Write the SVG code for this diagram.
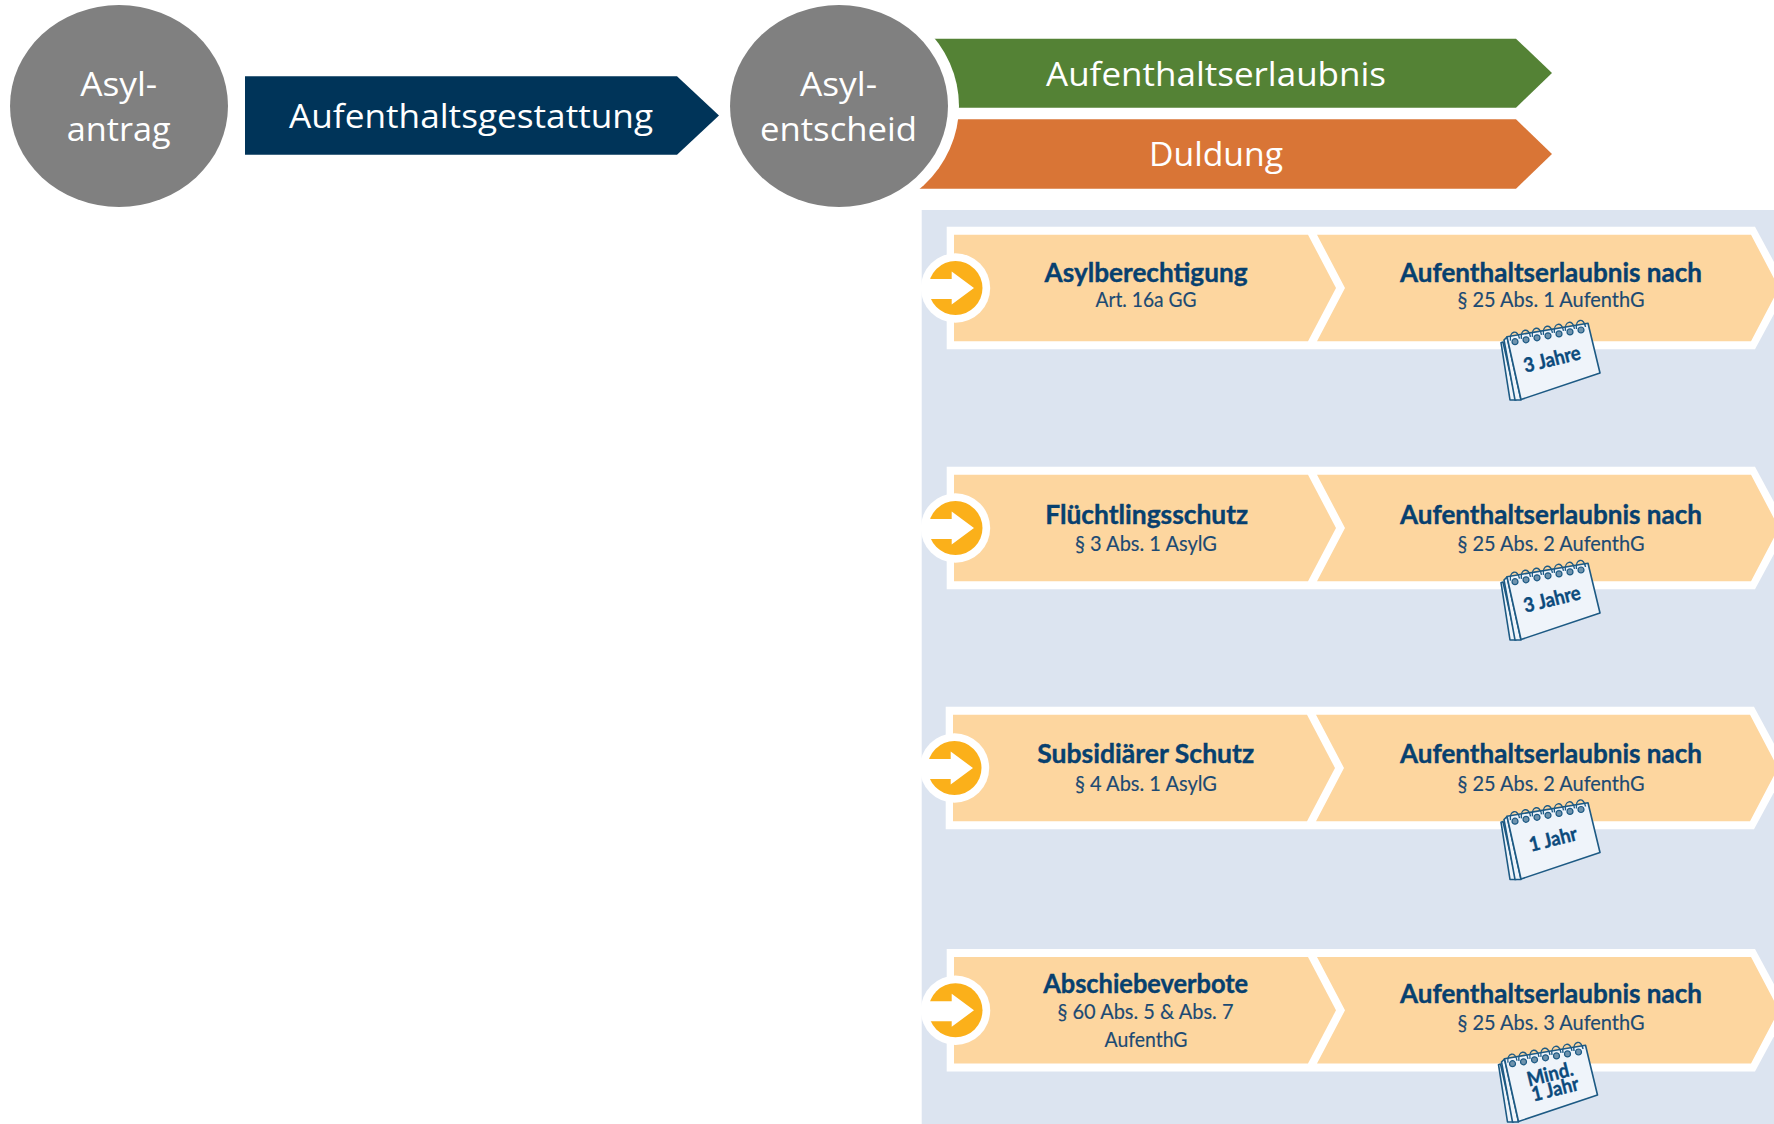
<svg xmlns="http://www.w3.org/2000/svg" xmlns:xlink="http://www.w3.org/1999/xlink" width="1774" height="1124" viewBox="0 0 1774 1124">
<style>
.big{font-family:"Open Sans","Noto Sans",sans-serif;font-size:33px;fill:#fff;text-anchor:middle}
.h{font-family:"Lato","Noto Sans",sans-serif;font-weight:700;font-size:27px;fill:#07406f;stroke:#07406f;stroke-width:.4;text-anchor:middle}
.s{font-family:"Lato","Noto Sans",sans-serif;font-size:20.5px;fill:#1c4a73;stroke:#1c4a73;stroke-width:.15;text-anchor:middle}
.c{font-family:"Lato","Noto Sans",sans-serif;font-weight:700;font-size:20px;fill:#0b4a7c;stroke:#0b4a7c;stroke-width:.4;text-anchor:middle}
.page{fill:#eff4fa;stroke:#1d5a84;stroke-width:1.6;stroke-linejoin:round}
.peach{fill:#fdd69f}
</style>
<defs>
<g id="ring"><circle cx="0" cy="0" r="3" fill="#6f93ad" stroke="#1d5a84" stroke-width="1.2"/><path d="M-4.5,-1 C-6,-11 3,-13 4.5,-3" fill="none" stroke="#1d5a84" stroke-width="1.4"/></g>
<g id="calendar">
<polygon class="page" points="1501,342.7 1510,400 1516,400 1503,342"/>
<polygon class="page" points="1504,340 1515,400 1521,400 1507,337"/>
<polygon class="page" points="1507,336.7 1588,323.3 1600,373 1521,399.5"/>
<use xlink:href="#ring" x="1515" y="341.7"/><use xlink:href="#ring" x="1526" y="339.8"/><use xlink:href="#ring" x="1537" y="337.8"/><use xlink:href="#ring" x="1548" y="335.8"/><use xlink:href="#ring" x="1559" y="333.9"/><use xlink:href="#ring" x="1570" y="331.9"/><use xlink:href="#ring" x="1581" y="330"/>
</g>
<g id="band">
<polygon fill="#fff" points="946.7,-61.3 1755,-61.3 1788,0 1755,61.3 946.7,61.3"/>
<polygon class="peach" points="954,-53.3 1308,-53.3 1336,0 1308,53.3 954,53.3"/>
<polygon class="peach" points="1317,-53.3 1751,-53.3 1779,0 1751,53.3 1317,53.3 1345,0"/>
<circle cx="955.5" cy="0" r="34.7" fill="#fff"/>
<circle cx="955.5" cy="0" r="27" fill="#fbb01a"/>
<polygon fill="#fff" points="925,-9 951.7,-9 951.7,-16.5 974,0 951.7,16.5 951.7,11 925,11"/>
</g>
</defs>
<rect width="1774" height="1124" fill="#fff"/>
<rect id="panel" x="921.7" y="210" width="852.3" height="914" fill="#dce4f0"/>
<g id="aufenthaltsgestattung"><polygon fill="#003459" points="245,76.3 677,76.3 719,115.5 677,154.7 245,154.7"/><text class="big" x="471" y="127.5" textLength="364" lengthAdjust="spacingAndGlyphs">Aufenthaltsgestattung</text></g>
<g id="aufenthaltserlaubnis"><polygon fill="#548235" points="900,38.7 1516,38.7 1552,73 1516,107.7 900,107.7"/><text class="big" x="1216" y="85.5" textLength="340" lengthAdjust="spacingAndGlyphs">Aufenthaltserlaubnis</text></g>
<g id="duldung"><polygon fill="#d97536" points="900,119.3 1516,119.3 1552,154 1516,188.7 918,188.7"/><text class="big" x="1216" y="166" textLength="134" lengthAdjust="spacingAndGlyphs">Duldung</text></g>
<g id="asylantrag"><ellipse cx="119" cy="106" rx="109" ry="101" fill="#808080"/><text class="big" x="118.7" y="95.7" textLength="77" lengthAdjust="spacingAndGlyphs">Asyl-</text><text class="big" x="118.7" y="140.7" textLength="104" lengthAdjust="spacingAndGlyphs">antrag</text></g>
<g id="asylentscheid"><ellipse cx="839" cy="106" rx="120" ry="112" fill="#fff"/><ellipse cx="839" cy="106" rx="109" ry="101" fill="#808080"/><text class="big" x="838.5" y="95.7" textLength="77" lengthAdjust="spacingAndGlyphs">Asyl-</text><text class="big" x="838.5" y="140.5" textLength="157" lengthAdjust="spacingAndGlyphs">entscheid</text></g>
<g id="row-asylberechtigung">
<use xlink:href="#band" y="288"/>
<text class="h" x="1146" y="281.7" textLength="203" lengthAdjust="spacingAndGlyphs">Asylberechtigung</text>
<text class="s" x="1146" y="306.7" textLength="101" lengthAdjust="spacingAndGlyphs">Art. 16a GG</text>
<text class="h" x="1551" y="281.7" textLength="302" lengthAdjust="spacingAndGlyphs">Aufenthaltserlaubnis nach</text>
<text class="s" x="1551" y="306.7" textLength="187" lengthAdjust="spacingAndGlyphs">§ 25 Abs. 1 AufenthG</text>
<use xlink:href="#calendar"/>
<text class="c" transform="translate(1552 359) rotate(-14)" x="0" y="7" textLength="58" lengthAdjust="spacingAndGlyphs">3 Jahre</text>
</g>
<g id="row-fluechtlingsschutz">
<use xlink:href="#band" y="528"/>
<text class="h" x="1146.7" y="524.3" textLength="203" lengthAdjust="spacingAndGlyphs">Flüchtlingsschutz</text>
<text class="s" x="1146" y="550.7" textLength="142" lengthAdjust="spacingAndGlyphs">§ 3 Abs. 1 AsylG</text>
<text class="h" x="1551" y="524.3" textLength="302" lengthAdjust="spacingAndGlyphs">Aufenthaltserlaubnis nach</text>
<text class="s" x="1551" y="550.7" textLength="187" lengthAdjust="spacingAndGlyphs">§ 25 Abs. 2 AufenthG</text>
<use xlink:href="#calendar" y="240"/>
<text class="c" transform="translate(1552 599) rotate(-14)" x="0" y="7" textLength="58" lengthAdjust="spacingAndGlyphs">3 Jahre</text>
</g>
<g id="row-subsidiaerer-schutz">
<use xlink:href="#band" x="-1" y="768"/>
<text class="h" x="1145.7" y="763.3" textLength="217" lengthAdjust="spacingAndGlyphs">Subsidiärer Schutz</text>
<text class="s" x="1146" y="790.7" textLength="142" lengthAdjust="spacingAndGlyphs">§ 4 Abs. 1 AsylG</text>
<text class="h" x="1551" y="763.3" textLength="302" lengthAdjust="spacingAndGlyphs">Aufenthaltserlaubnis nach</text>
<text class="s" x="1551" y="790.7" textLength="187" lengthAdjust="spacingAndGlyphs">§ 25 Abs. 2 AufenthG</text>
<use xlink:href="#calendar" y="480" transform="translate(0 -0.5)"/>
<text class="c" transform="translate(1553 839) rotate(-14)" x="0" y="7" textLength="49" lengthAdjust="spacingAndGlyphs">1 Jahr</text>
</g>
<g id="row-abschiebeverbote">
<use xlink:href="#band" y="1010.3"/>
<text class="h" x="1145.7" y="993.3" textLength="205" lengthAdjust="spacingAndGlyphs">Abschiebeverbote</text>
<text class="s" x="1145.5" y="1019.3" textLength="176" lengthAdjust="spacingAndGlyphs">§ 60 Abs. 5 &amp; Abs. 7</text>
<text class="s" x="1146" y="1046.7" textLength="83" lengthAdjust="spacingAndGlyphs">AufenthG</text>
<text class="h" x="1551" y="1003.3" textLength="302" lengthAdjust="spacingAndGlyphs">Aufenthaltserlaubnis nach</text>
<text class="s" x="1551" y="1030" textLength="187" lengthAdjust="spacingAndGlyphs">§ 25 Abs. 3 AufenthG</text>
<use xlink:href="#calendar" x="-2.5" y="722"/>
<text class="c" transform="translate(1550 1074) rotate(-14)" x="0" y="7" textLength="47" lengthAdjust="spacingAndGlyphs">Mind.</text>
<text class="c" transform="translate(1555 1089) rotate(-14)" x="0" y="7" textLength="48" lengthAdjust="spacingAndGlyphs">1 Jahr</text>
</g>
</svg>
